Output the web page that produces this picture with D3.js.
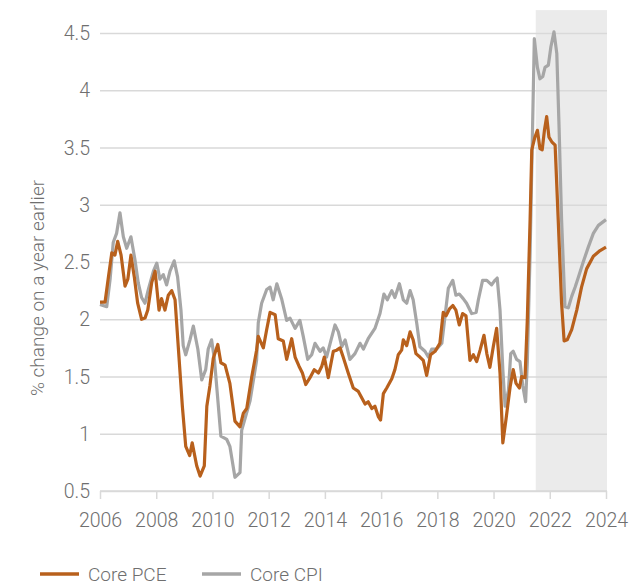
<!DOCTYPE html>
<html>
<head>
<meta charset="utf-8">
<script src="https://cdn.jsdelivr.net/npm/d3@7"></script>
<style>
  body { margin: 0; background: #fff; }
  svg text { font-family: Roboto, "Open Sans", sans-serif; font-weight: 300; fill: #6f6f6f; }
</style>
</head>
<body>
<div id="chart"></div>
<script>
// values, [decimal year, % change y/y]
const corePCE = [
  [2006.00, 2.15], [2006.18, 2.15], [2006.30, 2.37], [2006.42, 2.58], [2006.53, 2.56], [2006.63, 2.68],
  [2006.75, 2.56], [2006.89, 2.29], [2006.99, 2.35], [2007.10, 2.56], [2007.22, 2.37], [2007.34, 2.14],
  [2007.48, 2.00], [2007.60, 2.01], [2007.70, 2.08], [2007.84, 2.32], [2007.96, 2.42], [2008.10, 2.08],
  [2008.19, 2.18], [2008.31, 2.08], [2008.43, 2.21], [2008.55, 2.25], [2008.67, 2.17], [2008.79, 1.74],
  [2008.93, 1.24], [2009.05, 0.89], [2009.19, 0.81], [2009.28, 0.92], [2009.44, 0.72], [2009.56, 0.63],
  [2009.71, 0.72], [2009.80, 1.24], [2009.91, 1.42], [2010.03, 1.66], [2010.19, 1.78], [2010.30, 1.62],
  [2010.45, 1.60], [2010.62, 1.44], [2010.80, 1.11], [2010.98, 1.06], [2011.10, 1.18], [2011.22, 1.22],
  [2011.40, 1.50], [2011.57, 1.73], [2011.63, 1.85], [2011.81, 1.75], [2011.93, 1.91], [2012.05, 2.06],
  [2012.23, 2.04], [2012.34, 1.83], [2012.52, 1.81], [2012.64, 1.65], [2012.82, 1.83], [2012.94, 1.67],
  [2013.08, 1.59], [2013.20, 1.53], [2013.32, 1.43], [2013.47, 1.49], [2013.62, 1.56], [2013.77, 1.53],
  [2013.89, 1.59], [2013.98, 1.67], [2014.12, 1.49], [2014.30, 1.72], [2014.42, 1.73], [2014.54, 1.75],
  [2014.65, 1.67], [2014.83, 1.53], [2015.01, 1.40], [2015.19, 1.37], [2015.43, 1.26], [2015.54, 1.28],
  [2015.67, 1.22], [2015.78, 1.24], [2015.90, 1.15], [2015.98, 1.12], [2016.08, 1.35], [2016.20, 1.40],
  [2016.38, 1.48], [2016.49, 1.56], [2016.61, 1.69], [2016.73, 1.73], [2016.79, 1.82], [2016.91, 1.77],
  [2017.03, 1.89], [2017.14, 1.82], [2017.24, 1.70], [2017.38, 1.67], [2017.50, 1.64], [2017.62, 1.51],
  [2017.76, 1.69], [2017.92, 1.72], [2018.09, 1.79], [2018.21, 2.06], [2018.31, 2.03], [2018.43, 2.09],
  [2018.55, 2.12], [2018.66, 2.08], [2018.78, 1.95], [2018.90, 2.05], [2019.02, 2.03], [2019.16, 1.64],
  [2019.28, 1.69], [2019.40, 1.63], [2019.52, 1.73], [2019.66, 1.86], [2019.76, 1.70], [2019.87, 1.58],
  [2019.99, 1.76], [2020.11, 1.92], [2020.23, 1.53], [2020.33, 0.92], [2020.44, 1.12], [2020.59, 1.41],
  [2020.70, 1.56], [2020.80, 1.44], [2020.92, 1.40], [2021.00, 1.50], [2021.12, 1.49], [2021.20, 1.99],
  [2021.30, 2.87], [2021.36, 3.48], [2021.47, 3.59], [2021.56, 3.65], [2021.65, 3.49], [2021.73, 3.48],
  [2021.81, 3.65], [2021.89, 3.77], [2021.97, 3.59], [2022.07, 3.55], [2022.19, 3.52], [2022.30, 2.87],
  [2022.42, 2.14], [2022.51, 1.81], [2022.62, 1.82], [2022.78, 1.91], [2022.96, 2.08], [2023.13, 2.28],
  [2023.31, 2.44], [2023.55, 2.55], [2023.79, 2.60], [2024.00, 2.63]
];

const coreCPI = [
  [2006.00, 2.13], [2006.24, 2.11], [2006.36, 2.35], [2006.47, 2.67], [2006.59, 2.75], [2006.71, 2.93],
  [2006.83, 2.72], [2006.95, 2.62], [2007.10, 2.72], [2007.25, 2.51], [2007.36, 2.32], [2007.48, 2.19],
  [2007.60, 2.14], [2007.72, 2.26], [2007.90, 2.42], [2008.02, 2.49], [2008.13, 2.35], [2008.25, 2.39],
  [2008.37, 2.30], [2008.49, 2.42], [2008.64, 2.51], [2008.76, 2.37], [2008.88, 2.08], [2008.96, 1.77],
  [2009.05, 1.69], [2009.20, 1.82], [2009.32, 1.94], [2009.48, 1.74], [2009.62, 1.47], [2009.76, 1.56],
  [2009.85, 1.74], [2009.97, 1.82], [2010.07, 1.65], [2010.19, 1.30], [2010.30, 0.98], [2010.51, 0.95],
  [2010.62, 0.89], [2010.80, 0.62], [2010.98, 0.66], [2011.04, 1.03], [2011.34, 1.29], [2011.57, 1.64],
  [2011.63, 1.97], [2011.75, 2.14], [2011.93, 2.26], [2012.05, 2.28], [2012.16, 2.17], [2012.29, 2.31],
  [2012.46, 2.18], [2012.64, 1.99], [2012.76, 2.01], [2012.94, 1.92], [2013.11, 1.99], [2013.23, 1.85],
  [2013.39, 1.65], [2013.53, 1.69], [2013.65, 1.79], [2013.83, 1.72], [2013.94, 1.75], [2014.06, 1.67],
  [2014.22, 1.82], [2014.36, 1.95], [2014.48, 1.89], [2014.60, 1.76], [2014.72, 1.82], [2014.89, 1.65],
  [2015.07, 1.70], [2015.25, 1.79], [2015.37, 1.74], [2015.54, 1.83], [2015.78, 1.92], [2015.96, 2.05],
  [2016.10, 2.22], [2016.22, 2.17], [2016.38, 2.25], [2016.49, 2.19], [2016.65, 2.31], [2016.79, 2.17],
  [2016.91, 2.14], [2017.03, 2.25], [2017.14, 2.17], [2017.27, 1.96], [2017.38, 1.76], [2017.56, 1.72],
  [2017.68, 1.67], [2017.80, 1.74], [2017.98, 1.74], [2018.16, 1.79], [2018.27, 2.02], [2018.39, 2.27],
  [2018.55, 2.34], [2018.66, 2.21], [2018.78, 2.22], [2018.92, 2.18], [2019.04, 2.14], [2019.22, 2.05],
  [2019.38, 2.06], [2019.46, 2.17], [2019.61, 2.34], [2019.76, 2.34], [2019.93, 2.30], [2020.05, 2.34],
  [2020.13, 2.36], [2020.23, 2.08], [2020.33, 1.56], [2020.41, 1.24], [2020.53, 1.38], [2020.61, 1.70],
  [2020.70, 1.72], [2020.82, 1.65], [2020.94, 1.63], [2021.04, 1.42], [2021.14, 1.28], [2021.20, 1.62],
  [2021.30, 2.58], [2021.45, 4.45], [2021.56, 4.20], [2021.65, 4.10], [2021.75, 4.12], [2021.83, 4.20],
  [2021.95, 4.22], [2022.04, 4.38], [2022.15, 4.51], [2022.25, 4.32], [2022.33, 3.68], [2022.42, 2.87],
  [2022.54, 2.11], [2022.66, 2.10], [2022.78, 2.20], [2022.90, 2.28], [2023.02, 2.37], [2023.19, 2.50],
  [2023.37, 2.63], [2023.55, 2.75], [2023.73, 2.82], [2024.00, 2.87]
];

const yTicks = [0.5, 1, 1.5, 2, 2.5, 3, 3.5, 4, 4.5];
const xTicks = [2006, 2008, 2010, 2012, 2014, 2016, 2018, 2020, 2022, 2024];
const forecastSpan = [2021.5, 2024];
const seriesNames = ["Core PCE", "Core CPI"];

const W = 633, H = 585;
const margin = { top: 33, right: 27, bottom: 94, left: 100 };
const width = W - margin.left - margin.right;
const height = H - margin.top - margin.bottom;

const colors = { pce: "#b8601c", cpi: "#a6a6a6" };

const svg = d3.select("#chart").append("svg")
  .attr("width", W)
  .attr("height", H);

const g = svg.append("g")
  .attr("transform", "translate(" + margin.left + "," + margin.top + ")");

const x = d3.scaleLinear().domain([2006, 2024]).range([0, width]);
const y = d3.scaleLinear().domain([0.5, 4.5]).range([height, 0]);

// shaded forecast period
g.append("rect")
  .attr("x", x(forecastSpan[0]))
  .attr("y", y(4.7))
  .attr("width", x(forecastSpan[1]) - x(forecastSpan[0]) + 1)
  .attr("height", y(0.5) - y(4.7))
  .attr("fill", "#ebebeb");

// gridlines + y labels
const yAxis = d3.axisLeft(y).tickValues(yTicks).tickSize(-width - 1).tickFormat(d3.format("~g"));
g.append("g")
  .attr("class", "y-axis")
  .call(yAxis)
  .call((a) => a.select(".domain").remove())
  .call((a) => a.selectAll(".tick line").attr("stroke", "#d9d9d9").attr("stroke-width", 1.5))
  .call((a) => a.selectAll(".tick text").attr("x", -10).attr("dy", "0.34em").style("font-size", "19.5px"));

// x axis
const xAxis = d3.axisBottom(x).tickValues(xTicks).tickSize(8).tickFormat(d3.format("d"));
g.append("g")
  .attr("class", "x-axis")
  .attr("transform", "translate(0," + height + ")")
  .call(xAxis)
  .call((a) => a.select(".domain").attr("stroke", "#d9d9d9").attr("stroke-width", 1.5).attr("d", "M0,0H" + (width + 1)))
  .call((a) => a.selectAll(".tick line").attr("stroke", "#d9d9d9").attr("stroke-width", 1.5))
  .call((a) => a.selectAll(".tick text").attr("y", 22).style("font-size", "19.5px"));

// y title
svg.append("text")
  .attr("transform", "translate(44," + (margin.top + 255) + ") rotate(-90)")
  .attr("text-anchor", "middle")
  .style("font-size", "19px")
  .text("% change on a year earlier");

const line = d3.line()
  .x((d) => x(d[0]))
  .y((d) => y(d[1]));

g.append("path")
  .datum(coreCPI)
  .attr("d", line)
  .attr("fill", "none")
  .attr("stroke", colors.cpi)
  .attr("stroke-width", 3.2)
  .attr("stroke-linejoin", "round");

g.append("path")
  .datum(corePCE)
  .attr("d", line)
  .attr("fill", "none")
  .attr("stroke", colors.pce)
  .attr("stroke-width", 3.2)
  .attr("stroke-linejoin", "round");

// legend
const legend = svg.append("g").attr("transform", "translate(40,574)");
const legendX = [0, 162];
const legendColors = [colors.pce, colors.cpi];
seriesNames.forEach((name, i) => {
  legend.append("line")
    .attr("x1", legendX[i]).attr("x2", legendX[i] + 39)
    .attr("y1", 0).attr("y2", 0)
    .attr("stroke", legendColors[i])
    .attr("stroke-width", 3.5);
  legend.append("text")
    .attr("x", legendX[i] + 48)
    .attr("y", 0)
    .attr("dy", "0.35em")
    .style("font-size", "19px")
    .text(name);
});
</script>
</body>
</html>
